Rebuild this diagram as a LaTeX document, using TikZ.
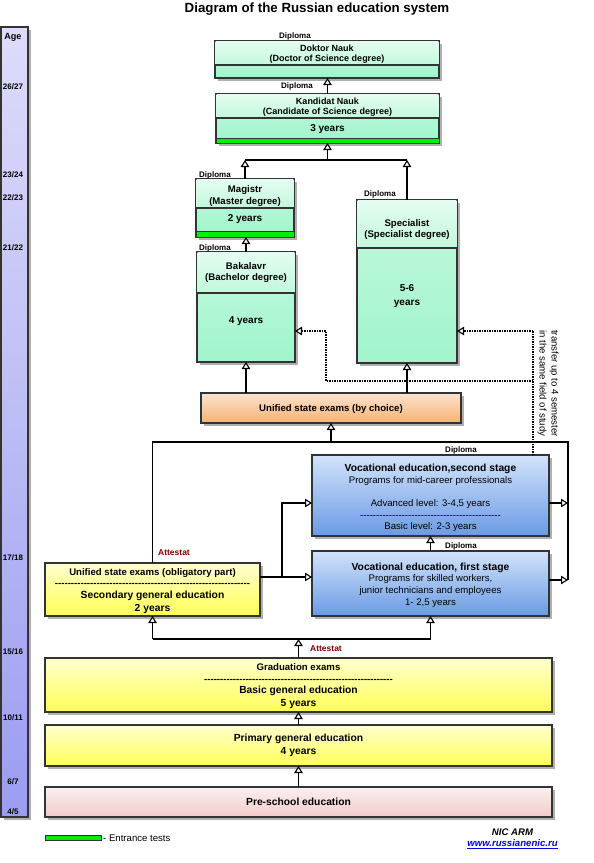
\documentclass[tikz,border=0pt]{standalone}
\usepackage{fontspec}
\setmainfont{Liberation Sans}[Ligatures=TeXOff]
\usetikzlibrary{arrows.meta,shadows,calc}
\ExplSyntaxOn
\NewDocumentCommand\dashrow{m}{\prg_replicate:nn{#1}{-}}
\ExplSyntaxOff
\definecolor{bordercol}{HTML}{333333}
\definecolor{shadowcol}{HTML}{B0B0B0}
\definecolor{mintA}{HTML}{E4FDF0}
\definecolor{mintB}{HTML}{C2F8DC}
\definecolor{mintC}{HTML}{C4F9DE}
\definecolor{mintD}{HTML}{A0F4CC}
\definecolor{barcol}{HTML}{00EE00}
\definecolor{orangeA}{HTML}{FCE3CF}
\definecolor{orangeB}{HTML}{F5B272}
\definecolor{blueA}{HTML}{D2E3FA}
\definecolor{blueB}{HTML}{6A9AE6}
\definecolor{yellowA}{HTML}{FFFFD0}
\definecolor{yellowB}{HTML}{FFFF55}
\definecolor{pinkA}{HTML}{FBF0F0}
\definecolor{pinkB}{HTML}{F2CACA}
\definecolor{ageA}{HTML}{DCDCFA}
\definecolor{ageB}{HTML}{9C9CF2}
\definecolor{attred}{HTML}{7F0000}
\definecolor{linkblue}{HTML}{0000EE}
\begin{document}
\begin{tikzpicture}[x=1pt,y=-1pt,
  box/.style={draw=bordercol, line width=1.3pt, inner sep=0pt, outer sep=0pt, anchor=north west,
    drop shadow={shadow xshift=3pt, shadow yshift=-3pt, fill=shadowcol, opacity=1}},
  mintbox/.style={box, top color=mintC, bottom color=mintD},
  orangebox/.style={box, top color=orangeA, bottom color=orangeB},
  bluebox/.style={box, top color=blueA, bottom color=blueB},
  yellowbox/.style={box, top color=yellowA, bottom color=yellowB},
  pinkbox/.style={box, top color=pinkA, bottom color=pinkB},
  agebox/.style={box, top color=ageA, bottom color=ageB},
  txt/.style={inner sep=0pt, anchor=base, yshift=-3.3pt, font=\fontsize{9.6}{11}\selectfont},
  txtb/.style={txt, font=\fontsize{9.6}{11}\selectfont\bfseries},
  txtc/.style={txt, font=\fontsize{9}{11}\selectfont\bfseries},
  txty/.style={txt, font=\fontsize{10}{12}\selectfont\bfseries},
  txth/.style={txt, font=\fontsize{10.3}{12}\selectfont\bfseries},
  lab/.style={inner sep=0pt, anchor=base, yshift=-2.9pt, font=\fontsize{8}{9}\selectfont\bfseries},
  att/.style={lab, font=\fontsize{8.5}{9}\selectfont\bfseries, text=attred},
  rot/.style={inner sep=0pt, rotate=-90, anchor=base west, font=\fontsize{9.6}{11}\selectfont},
  ln/.style={line width=1.4pt, draw=black},
  arr/.style={ln, -{Triangle[length=7pt, width=8.5pt, fill=white, line width=1.1pt]}},
  dotln/.style={line width=1.2pt, dash pattern=on 1.2pt off 1.3pt, draw=black},
  dotarr/.style={dotln, -{Triangle[length=7pt, width=8.5pt, fill=white, line width=1.1pt]}},
  divider/.style={draw=bordercol, line width=1.3pt},
  greenbar/.style={fill=barcol, draw=bordercol, line width=1pt}
]
\useasboundingbox (0,0) rectangle (594,863);

% title
\node[inner sep=0pt, anchor=base, yshift=-4.7pt, font=\fontsize{13.3}{15}\selectfont\bfseries] (title) at (317,8) {Diagram of the Russian education system};

% age bar
\node[agebox, minimum width=27pt, minimum height=790pt] (age) at (1,27) {};
\node[lab, font=\fontsize{9}{10}\selectfont\bfseries] (ag0) at (13,37) {Age};
\node[lab] (ag1) at (13,87) {26/27};
\node[lab] (ag2) at (13,175) {23/24};
\node[lab] (ag3) at (13,198) {22/23};
\node[lab] (ag4) at (13,248) {21/22};
\node[lab] (ag5) at (13,558) {17/18};
\node[lab] (ag6) at (13,652) {15/16};
\node[lab] (ag7) at (13,718) {10/11};
\node[lab] (ag8) at (13,782) {6/7};
\node[lab] (ag9) at (13,812) {4/5};

% degree boxes
\node[mintbox, minimum width=224pt, minimum height=37pt] (dok) at (215,41) {};
\shade[top color=mintA, bottom color=mintB] (215.65,41.65) rectangle (438.35,65);
\draw[divider] (215,65) -- (439,65);

\node[mintbox, minimum width=223pt, minimum height=49pt] (kand) at (216,94) {};
\shade[top color=mintA, bottom color=mintB] (216.65,94.65) rectangle (438.35,118);
\draw[divider] (216,118) -- (439,118);
\draw[greenbar] (216,138) rectangle (439,143);

\node[mintbox, minimum width=98pt, minimum height=58pt] (mag) at (196,179) {};
\shade[top color=mintA, bottom color=mintB] (196.65,179.65) rectangle (293.35,208);
\draw[divider] (196,208) -- (294,208);
\draw[greenbar] (196,231) rectangle (294,237);

\node[mintbox, minimum width=98pt, minimum height=110pt] (bak) at (197,252) {};
\shade[top color=mintA, bottom color=mintB] (197.65,252.65) rectangle (294.35,293);
\draw[divider] (197,293) -- (295,293);

\node[mintbox, minimum width=100pt, minimum height=163pt] (spec) at (357,200) {};
\shade[top color=mintA, bottom color=mintB] (357.65,200.65) rectangle (456.35,248);
\draw[divider] (357,248) -- (457,248);

\node[orangebox, minimum width=260pt, minimum height=30pt] (une) at (201,393) {};
\node[bluebox, minimum width=237pt, minimum height=81pt] (voc2) at (312,455) {};
\node[bluebox, minimum width=237pt, minimum height=65pt] (voc1) at (312,551) {};
\node[yellowbox, minimum width=215pt, minimum height=53pt] (sec) at (45,563) {};
\node[yellowbox, minimum width=507pt, minimum height=54pt] (grad) at (45,658) {};
\node[yellowbox, minimum width=507pt, minimum height=41pt] (prim) at (45,725) {};
\node[pinkbox, minimum width=507pt, minimum height=30pt] (pre) at (45,787) {};

% texts in boxes
\node[txtc] (td1) at (327,48) {Doktor Nauk};
\node[txtc] (td2) at (327,58) {(Doctor of Science degree)};
\node[txtc] (tk1) at (327.5,101) {Kandidat Nauk};
\node[txtc] (tk2) at (327.5,111) {(Candidate of Science degree)};
\node[txty] (tk3) at (327.5,128) {3 years};
\node[txtb] (tm1) at (245,189) {Magistr};
\node[txtb] (tm2) at (245,201) {(Master degree)};
\node[txty] (tm3) at (245,218) {2 years};
\node[txtb] (tb1) at (246,266) {Bakalavr};
\node[txtb] (tb2) at (246,277) {(Bachelor degree)};
\node[txty] (tb3) at (246,320) {4 years};
\node[txtb] (ts1) at (407,223) {Specialist};
\node[txtb] (ts2) at (407,234) {(Specialist degree)};
\node[txty] (ts3) at (407,288) {5-6};
\node[txty] (ts4) at (407,302) {years};
\node[txtb] (tu) at (331,408) {Unified state exams (by choice)};
\node[txth] (tv21) at (430.5,468) {Vocational education,second stage};
\node[txt] (tv22) at (430.5,480) {Programs for mid-career professionals};
\node[txt] (tv23) at (430.5,503) {Advanced level: 3-4,5 years};
\node[txt] (tv24) at (430.5,515) {\dashrow{44}};
\node[txt] (tv25) at (430.5,526) {Basic level: 2-3 years};
\node[txth] (tv11) at (430.5,567) {Vocational education, first stage};
\node[txt] (tv12) at (430.5,578) {Programs for skilled workers,};
\node[txt] (tv13) at (430.5,590) {junior technicians and employees};
\node[txt] (tv14) at (430.5,602) {1- 2,5 years};
\node[txtb] (tsec1) at (152.5,572) {Unified state exams (obligatory part)};
\node[txtb] (tsec2) at (152.5,583) {\dashrow{61}};
\node[txth] (tsec3) at (152.5,595) {Secondary general education};
\node[txth] (tsec4) at (152.5,608) {2 years};
\node[txtb] (tg1) at (298.5,667) {Graduation exams};
\node[txtb] (tg2) at (298.5,679) {\dashrow{59}};
\node[txth] (tg3) at (298.5,690) {Basic general education};
\node[txth] (tg4) at (298.5,703) {5 years};
\node[txth] (tp1) at (298.5,738.5) {Primary general education};
\node[txth] (tp2) at (298.5,751) {4 years};
\node[txth] (tpre) at (298.5,802) {Pre-school education};

% labels
\node[lab] (l1) at (295,36) {Diploma};
\node[lab] (l2) at (297,86) {Diploma};
\node[lab] (l3) at (215,175) {Diploma};
\node[lab] (l4) at (215,248) {Diploma};
\node[lab] (l5) at (380,194) {Diploma};
\node[lab] (l6) at (461,450) {Diploma};
\node[lab] (l7) at (461,546) {Diploma};
\node[att] (at1) at (174,553) {Attestat};
\node[att] (at2) at (326,649) {Attestat};

% rotated note
\node[rot] (tr1) at (551.5,330) {transfer up to 4 semester};
\node[rot] (tr2) at (539.5,330) {in the same field of study};

% coordinates
\coordinate (m1) at (327,160);
\coordinate (m2) at (331,442);
\coordinate (rtop) at (568,442);
\coordinate (r2) at (568,503);
\coordinate (r1) at (568,580);
\coordinate (j1) at (282,577);
\coordinate (m3) at (298,639);
\coordinate (d1) at (533,331);
\coordinate (d2) at (533,381);
\coordinate (d3) at (326,381);
\coordinate (d4) at (326,331);

% connectors
\draw[arr] (kand.north) -- (kand.north |- dok.south);
\draw[ln] (mag.north |- m1) -- (spec.north |- m1);
\draw[arr] (mag.north) -- (mag.north |- m1);
\draw[arr] (spec.north) -- (spec.north |- m1);
\draw[arr] (kand.south |- m1) -- (kand.south);
\draw[arr] (bak.north) -- (bak.north |- mag.south);
\draw[arr] (une.north -| bak.south) -- (bak.south);
\draw[arr] (une.north -| spec.south) -- (spec.south);
\draw[ln] (sec.north) |- (rtop) -- (r1);
\draw[arr] (m2) -- (une.south);
\draw[arr] (voc2.east |- r2) -- (r2);
\draw[arr] (voc1.east |- r1) -- (r1);
\draw[arr] (sec.east |- j1) -- (voc1.west |- j1);
\draw[arr] (j1) |- (voc2.west |- r2);
\draw[arr] (voc1.north) -- (voc1.north |- voc2.south);
\draw[ln] (sec.south |- m3) -- (voc1.south |- m3);
\draw[arr] (sec.south |- m3) -- (sec.south);
\draw[arr] (voc1.south |- m3) -- (voc1.south);
\draw[arr] (grad.north) -- (grad.north |- m3);
\draw[arr] (prim.north) -- (prim.north |- grad.south);
\draw[arr] (pre.north) -- (pre.north |- prim.south);

% dotted transfer lines
\draw[dotln] (voc2.north -| d1) -- (d1);
\draw[dotarr] (d1) -- (spec.east |- d1);
\draw[dotarr] (d2) -- (d3) -- (d4) -- (bak.east |- d4);

% legend and credits
\node[draw=bordercol, line width=0.8pt, fill=barcol, minimum width=56pt, minimum height=5pt, inner sep=0pt, anchor=north west] (leg) at (45,835) {};
\node[txt, anchor=base west] (legt) at (103,838) {- Entrance tests};
\node[txt, font=\fontsize{9.6}{11}\selectfont\bfseries\itshape] (nic) at (512.5,832) {NIC ARM};
\node[txt, font=\fontsize{9.6}{11}\selectfont\bfseries\itshape, text=linkblue] (www) at (512.5,843) {\underline{www.russianenic.ru}};
\end{tikzpicture}
\end{document}
